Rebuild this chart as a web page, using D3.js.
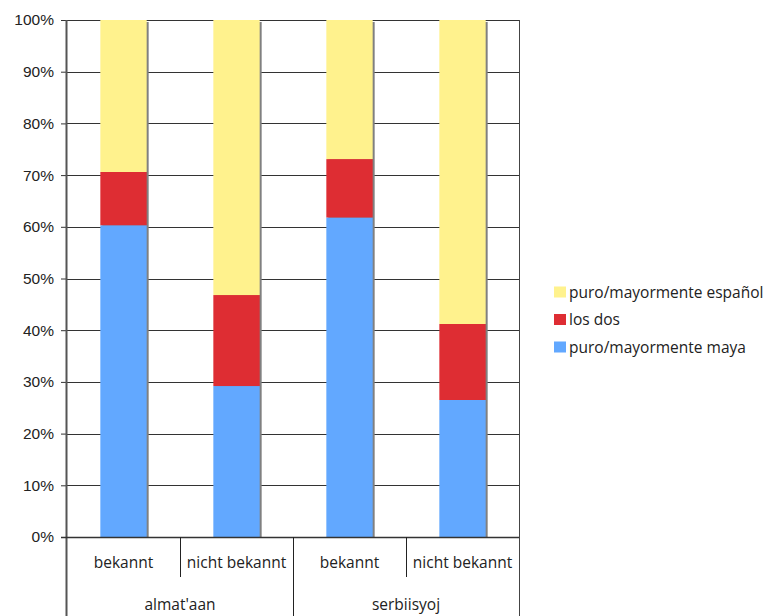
<!DOCTYPE html>
<html><head><meta charset="utf-8">
<script src="https://cdn.jsdelivr.net/npm/d3@7"></script>
<style>body{margin:0;background:#fff}svg{display:block;font-family:"Open Sans","Noto Sans",sans-serif}</style>
</head><body><svg id="c" width="768" height="616"></svg>
<script>
const groups = ["almat'aan", "serbiisyoj"];
const subcats = ["bekannt", "nicht bekannt"];
const seriesNames = ["puro/mayormente maya", "los dos", "puro/mayormente español"];
const maya = [60.3, 29.2, 61.8, 26.5];
const losDos = [10.3, 17.6, 11.3, 14.7];
const espanol = [29.4, 53.2, 26.9, 58.8];
const colors = ["#62a8ff", "#de2d33", "#fff28d"];
const yTicks = [0,10,20,30,40,50,60,70,80,90,100];

const svg = d3.select("#c");
const L = 67, R = 519, T = 20, B = 537;
const bars = [];
groups.forEach(g => subcats.forEach(s => bars.push(g + "|" + s)));
const x = d3.scaleBand().domain(bars).range([L, R]).paddingInner(0.59).paddingOuter(0.295);
const y = d3.scaleLinear().domain([0, 100]).range([B, T]);

// grid
svg.append("g").selectAll("line").data(yTicks.slice(1)).join("line")
  .attr("x1", L).attr("x2", R)
  .attr("y1", d => Math.round(y(d)) + 0.5).attr("y2", d => Math.round(y(d)) + 0.5)
  .attr("stroke", "#333").attr("stroke-width", 1);
svg.append("line").attr("x1", R + 0.5).attr("x2", R + 0.5).attr("y1", T).attr("y2", 616)
  .attr("stroke", "#444");

const data = bars.map((b, i) => ({ key: b, vals: [maya[i], losDos[i], espanol[i]] }));
const stack = d3.stack().keys([0, 1, 2]).value((d, k) => d.vals[k]);
const stacked = stack(data);

// shadows
svg.append("g").selectAll("rect").data(data).join("rect")
  .attr("x", d => x(d.key) + 2).attr("y", y(100) + 2)
  .attr("width", x.bandwidth()).attr("height", y(0) - y(100) - 2)
  .attr("fill", "#808080");

svg.append("g").selectAll("g").data(stacked).join("g")
  .attr("fill", (d, i) => colors[i])
  .selectAll("rect").data(d => d).join("rect")
  .attr("x", d => x(d.data.key)).attr("width", x.bandwidth())
  .attr("y", d => y(d[1])).attr("height", d => y(d[0]) - y(d[1]));

// y axis
const yAxis = d3.axisLeft(y).tickValues(yTicks).tickFormat(d => d + "%").tickSize(6).tickPadding(7);
const ga = svg.append("g").attr("transform", `translate(${L},0)`).call(yAxis);
ga.select(".domain").remove();
ga.selectAll(".tick line").attr("stroke", "#333");
ga.selectAll("text").attr("font-size", 15.5).attr("fill", "#222");
svg.append("line").attr("x1", L - 0.5).attr("x2", L - 0.5).attr("y1", T).attr("y2", 616)
  .attr("stroke", "#555").attr("stroke-width", 2);
svg.append("line").attr("x1", L - 6).attr("x2", R).attr("y1", B + 0.5).attr("y2", B + 0.5)
  .attr("stroke", "#333").attr("stroke-width", 1.5);

// category axis
const step = x.step();
bars.forEach((b, i) => {
  const cx = L + step * (i + 0.5);
  svg.append("text").attr("x", cx).attr("y", 568).attr("text-anchor", "middle")
    .attr("font-size", 15.5).attr("fill", "#222").text(b.split("|")[1]);
  if (i > 0) {
    const xx = Math.round(L + step * i) + 0.5;
    svg.append("line").attr("x1", xx).attr("x2", xx).attr("y1", B).attr("y2", i % 2 === 0 ? 616 : 577)
      .attr("stroke", "#222");
  }
});
groups.forEach((g, i) => {
  const cx = L + step * (2 * i + 1);
  svg.append("text").attr("x", cx).attr("y", 610).attr("text-anchor", "middle")
    .attr("font-size", 15.5).attr("fill", "#222").text(g);
});

// legend
const legendOrder = [2, 1, 0];
const lg = svg.append("g");
legendOrder.forEach((si, r) => {
  const cy = 292 + r * 27.5;
  lg.append("rect").attr("x", 554).attr("y", cy - 5.5).attr("width", 12).attr("height", 11).attr("fill", colors[si]);
  lg.append("text").attr("x", 569).attr("y", cy + 5.5).attr("font-size", 15.5).attr("fill", "#222").text(seriesNames[si]);
});
</script></body></html>
